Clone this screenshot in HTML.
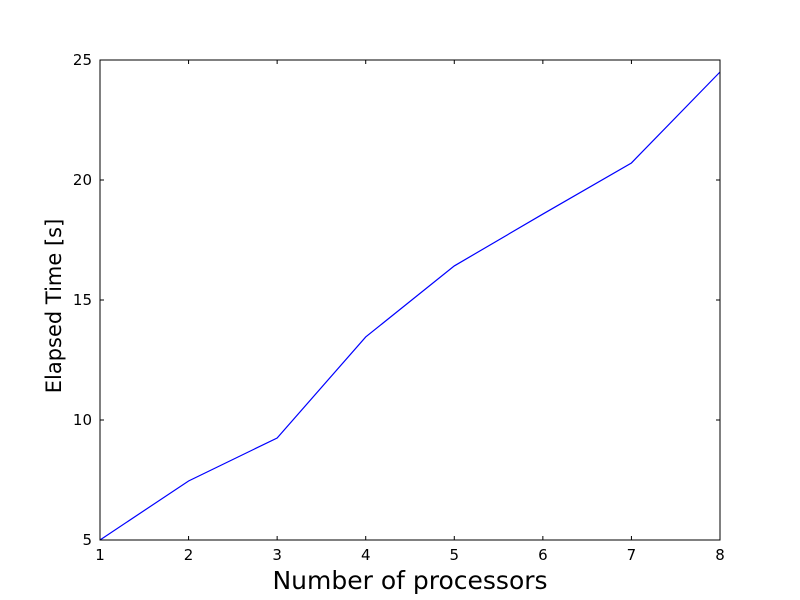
<!DOCTYPE html>
<html><head><meta charset="utf-8"><style>
body{margin:0;background:#fff;}
svg{display:block;font-family:"DejaVu Sans","Liberation Sans",sans-serif;}
</style></head><body>
<svg id="chart" width="800" height="600">
<rect width="800" height="600" fill="#fff"/>
<g id="ticks"></g>
<polyline id="line" fill="none" stroke="#0000ff" stroke-width="1.2"/>
<rect x="100" y="60" width="620" height="480" fill="none" stroke="#000" stroke-width="1"/>
<text x="410" y="589" font-size="25" text-anchor="middle">Number of processors</text>
<text transform="translate(61,306) rotate(-90)" font-size="21" text-anchor="middle">Elapsed Time [s]</text>
</svg>
<script>
const processors=[1,2,3,4,5,6,7,8];
const elapsed=[5.0,7.46,9.25,13.46,16.42,18.58,20.71,24.5];
const xTicks=[1,2,3,4,5,6,7,8];
const yTicks=[5,10,15,20,25];
const X0=100,X1=720,Y0=540,Y1=60;
function sx(v){return X0+(v-1)/(8-1)*(X1-X0);}
function sy(v){return Y0-(v-5)/(25-5)*(Y0-Y1);}
const NS="http://www.w3.org/2000/svg";
const g=document.getElementById('ticks');
function mk(tag,attrs){const e=document.createElementNS(NS,tag);for(const k in attrs)e.setAttribute(k,attrs[k]);g.appendChild(e);return e;}
xTicks.forEach(t=>{const x=sx(t);
 const a=mk('line',{x1:x,x2:x,y1:Y0,y2:Y0-4,stroke:'#000'});
 
 
 const b=mk('line',{x1:x,x2:x,y1:Y1,y2:Y1+4,stroke:'#000'});
 
 
 const l=mk('text',{x:x,y:Y0+20,'font-size':15,'text-anchor':'middle'});l.textContent=t;
 
 
});
yTicks.forEach(t=>{const y=sy(t);
 const a=mk('line',{x1:X0,x2:X0+4,y1:y,y2:y,stroke:'#000'});
 
 
 const b=mk('line',{x1:X1,x2:X1-4,y1:y,y2:y,stroke:'#000'});
 
 
 const l=mk('text',{x:X0-8,y:y+5,'font-size':15,'text-anchor':'end'});l.textContent=t;
 
 
});
document.getElementById('line').setAttribute('points',processors.map((p,i)=>sx(p)+','+sy(elapsed[i])).join(' '));
</script>
</body></html>
